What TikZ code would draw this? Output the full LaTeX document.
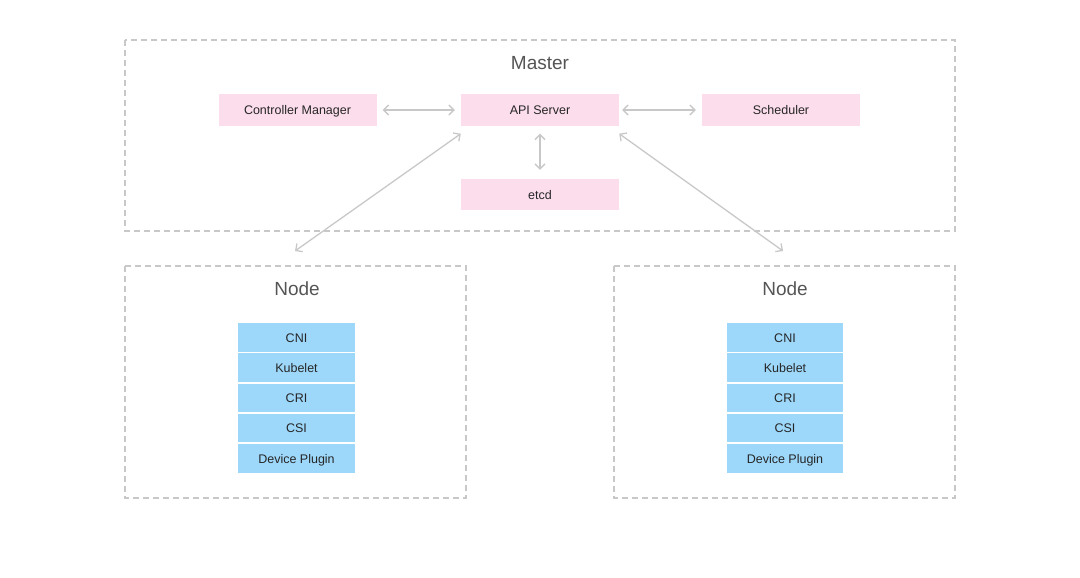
\documentclass[tikz,border=0pt]{standalone}
\usepackage{fontspec}
\setmainfont{Liberation Sans}
\usetikzlibrary{arrows.meta}
\definecolor{pinkc}{HTML}{FCDDEC}
\definecolor{bluec}{HTML}{9DD8FB}
\definecolor{grayl}{HTML}{C8C8C8}
\definecolor{txtg}{HTML}{555555}
\tikzset{
  frame/.style={draw=grayl, line width=1.2pt, dash pattern=on 6pt off 4pt},
  pinkbox/.style={fill=pinkc, draw=none, minimum width=158pt, minimum height=31pt, inner sep=0pt, text height=9pt, text depth=0pt, font=\fontsize{12.5}{14}\selectfont, text=black!85},
  bluebox/.style={fill=bluec, draw=none, minimum width=116.6pt, minimum height=28.5pt, inner sep=0pt, text height=9pt, text depth=0pt, font=\fontsize{12.5}{14}\selectfont, text=black!85},
  title/.style={font=\fontsize{19}{22}\selectfont, text=txtg},
  conn/.style={draw=grayl, line width=1.3pt, {Straight Barb[length=5pt,width=10pt]}-{Straight Barb[length=5pt,width=10pt]}},
}
\begin{document}
\begin{tikzpicture}[x=1pt,y=-1pt]
\useasboundingbox (0,0) rectangle (1080,578);
% frames
\draw[frame] (125,40) rectangle (955,231);
\draw[frame] (125,266) rectangle (466,498);
\draw[frame] (614,266) rectangle (955,498);
% titles
\node[title] (master) at (540,63) {Master};
\node[title] (nodeL) at (297,289) {Node};
\node[title] (nodeR) at (785,289) {Node};
% master components
\node[pinkbox] (cm) at (297.5,110) {Controller Manager};
\node[pinkbox] (api) at (540,110) {API Server};
\node[pinkbox] (sch) at (781,110) {Scheduler};
\node[pinkbox] (etcd) at (540,194.5) {etcd};
% connectors
\coordinate (lend) at (295,251);
\coordinate (rend) at (783,251);
\draw[conn] ([xshift=6pt]cm.east) -- ([xshift=-6pt]api.west) ;
\draw[conn] ([xshift=3pt]api.east) -- ([xshift=-6pt]sch.west);
\draw[conn] ([yshift=-8pt]api.south) -- ([yshift=9pt]etcd.north);
\draw[conn] ([yshift=-8pt]api.south west) -- (lend);
\draw[conn] ([yshift=-8pt]api.south east) -- (rend);
% left node stack
\node[bluebox] (cniL) at (296.5,337.5) {CNI};
\node[bluebox] (kubL) at (296.5,367.7) {Kubelet};
\node[bluebox] (criL) at (296.5,397.9) {CRI};
\node[bluebox] (csiL) at (296.5,428.1) {CSI};
\node[bluebox] (devL) at (296.5,458.5) {Device Plugin};
% right node stack
\node[bluebox] (cniR) at (785,337.5) {CNI};
\node[bluebox] (kubR) at (785,367.7) {Kubelet};
\node[bluebox] (criR) at (785,397.9) {CRI};
\node[bluebox] (csiR) at (785,428.1) {CSI};
\node[bluebox] (devR) at (785,458.5) {Device Plugin};
\end{tikzpicture}
\end{document}
